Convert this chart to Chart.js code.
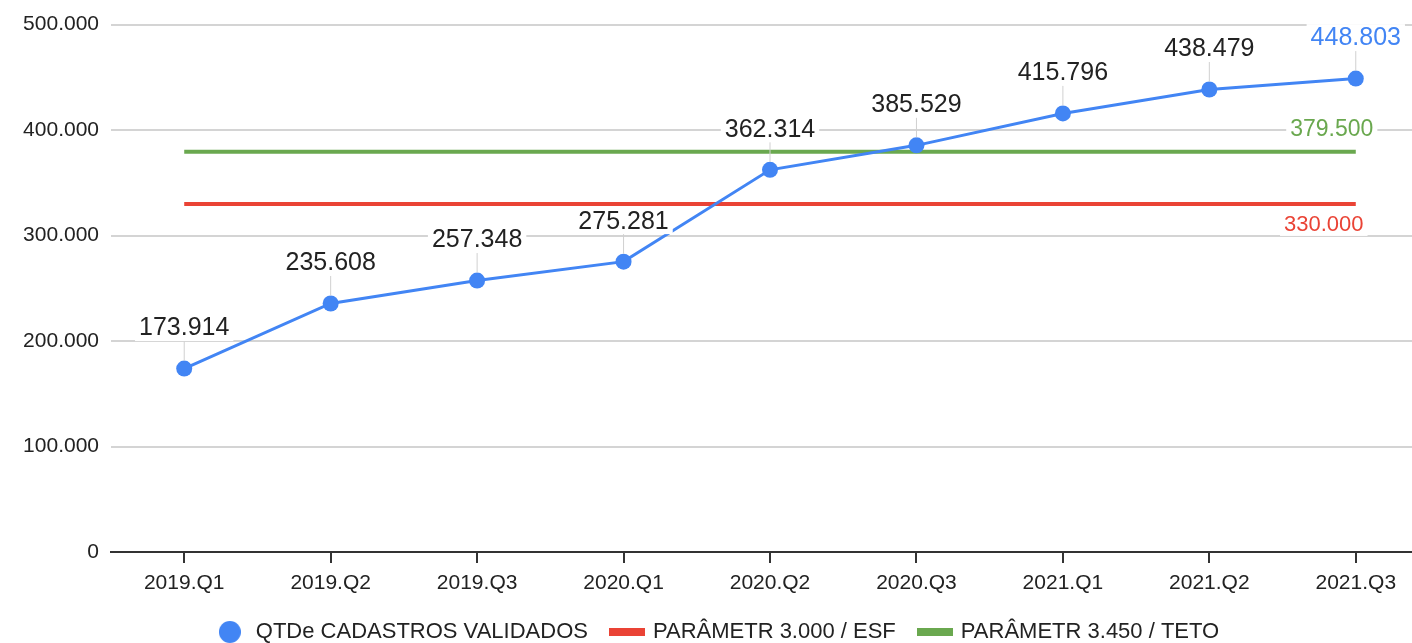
<!DOCTYPE html>
<html>
<head>
<meta charset="utf-8">
<script src="https://cdn.jsdelivr.net/npm/chart.js@4.4.1/dist/chart.umd.min.js"></script>
<style>
    body { margin: 0; background: #fff; overflow: hidden; }
    #wrap { width: 1437px; height: 653px; }
</style>
</head>
<body>
<div id="wrap"><canvas id="chart" width="1437" height="653"></canvas></div>
<script>
const quarters = ['2019.Q1', '2019.Q2', '2019.Q3', '2020.Q1', '2020.Q2', '2020.Q3', '2021.Q1', '2021.Q2', '2021.Q3'];
const cadastros = [173914, 235608, 257348, 275281, 362314, 385529, 415796, 438479, 448803];
const paramEsf = [330000, 330000, 330000, 330000, 330000, 330000, 330000, 330000, 330000];
const paramTeto = [379500, 379500, 379500, 379500, 379500, 379500, 379500, 379500, 379500];
const seriesNames = ['QTDe CADASTROS VALIDADOS', 'PARÂMETR 3.000 / ESF', 'PARÂMETR 3.450 / TETO'];

const BLUE = '#4285f4';
const RED = '#ea4335';
const GREEN = '#6aa84f';
const FONT = "'Liberation Sans', Arial, sans-serif";
const POINT_R = 8;

function fmt(v) {
    return String(Math.round(v)).replace(/\B(?=(\d{3})+(?!\d))/g, '.');
}

function legendIcon(kind, color) {
    const c = document.createElement('canvas');
    const g = c.getContext('2d');
    if (kind === 'circle') {
        c.width = 22; c.height = 22;
        g.fillStyle = color;
        g.beginPath();
        g.arc(11, 11, 11, 0, Math.PI * 2);
        g.fill();
    } else {
        c.width = 36; c.height = 8;
        g.fillStyle = color;
        g.fillRect(0, 0, 36, 8);
    }
    return c;
}

const icons = [legendIcon('circle', BLUE), legendIcon('rect', RED), legendIcon('rect', GREEN)];

// value labels with leader lines, drawn from the dataset meta
const valueLabels = {
    id: 'valueLabels',
    afterDatasetsDraw(chart) {
        const ctx = chart.ctx;
        ctx.save();
        ctx.textAlign = 'center';
        ctx.textBaseline = 'middle';

        function boxText(text, x, y, size, color) {
            ctx.font = size + 'px ' + FONT;
            const w = ctx.measureText(text).width;
            ctx.fillStyle = '#fff';
            ctx.fillRect(x - w / 2 - 4, y - size / 2 - 1, w + 8, size + 2);
            ctx.fillStyle = color;
            ctx.fillText(text, x, y + 1);
        }

        const meta = chart.getDatasetMeta(0);
        meta.data.forEach((pt, i) => {
            const ly = pt.y - 41;
            ctx.strokeStyle = '#d0d0d0';
            ctx.lineWidth = 1;
            ctx.beginPath();
            ctx.moveTo(pt.x, pt.y - POINT_R);
            ctx.lineTo(pt.x, ly + 12);
            ctx.stroke();
            const last = i === meta.data.length - 1;
            boxText(fmt(cadastros[i]), pt.x, ly, 25, last ? BLUE : '#222');
        });

        const esfLast = chart.getDatasetMeta(1).data[paramEsf.length - 1];
        boxText(fmt(paramEsf[paramEsf.length - 1]), esfLast.x - 32, esfLast.y + 20, 22, RED);
        const tetoLast = chart.getDatasetMeta(2).data[paramTeto.length - 1];
        boxText(fmt(paramTeto[paramTeto.length - 1]), tetoLast.x - 24, tetoLast.y - 23, 23, GREEN);
        ctx.restore();
    }
};

new Chart(document.getElementById('chart').getContext('2d'), {
    type: 'line',
    data: {
        labels: quarters,
        datasets: [{
            label: seriesNames[0],
            data: cadastros,
            borderColor: BLUE,
            backgroundColor: BLUE,
            borderWidth: 3,
            pointRadius: POINT_R,
            pointBorderWidth: 0,
            pointBackgroundColor: BLUE,
            tension: 0
        }, {
            label: seriesNames[1],
            data: paramEsf,
            borderColor: RED,
            backgroundColor: RED,
            borderWidth: 4,
            pointRadius: 0
        }, {
            label: seriesNames[2],
            data: paramTeto,
            borderColor: GREEN,
            backgroundColor: GREEN,
            borderWidth: 4,
            pointRadius: 0
        }]
    },
    options: {
        responsive: false,
        animation: false,
        layout: { padding: { left: 0, right: 3, top: 23, bottom: 0 } },
        scales: {
            x: {
                offset: true,
                afterFit: s => { s.height = 45; },
                grid: {
                    offset: false,
                    drawOnChartArea: false,
                    drawTicks: true,
                    tickLength: 11,
                    color: '#333',
                    lineWidth: 2
                },
                border: { display: true, color: '#333', width: 2 },
                ticks: {
                    color: '#222',
                    font: { family: FONT, size: 21 },
                    padding: 8,
                    maxRotation: 0,
                    autoSkip: false
                }
            },
            y: {
                min: 0,
                max: 500000,
                afterFit: s => { s.width = 111; },
                grid: { color: '#d4d4d4', lineWidth: 2, drawTicks: false },
                border: { display: false },
                ticks: {
                    stepSize: 100000,
                    color: '#222',
                    padding: 12,
                    font: { family: FONT, size: 21 },
                    callback: v => fmt(v)
                }
            }
        },
        plugins: {
            tooltip: { enabled: false },
            legend: {
                position: 'bottom',
                labels: {
                    usePointStyle: true,
                    pointStyleWidth: 30,
                    padding: 24,
                    color: '#222',
                    font: { family: FONT, size: 22 },
                    generateLabels: chart => chart.data.datasets.map((ds, i) => ({
                        text: ds.label,
                        fillStyle: ds.borderColor,
                        strokeStyle: ds.borderColor,
                        lineWidth: 0,
                        hidden: false,
                        datasetIndex: i,
                        pointStyle: icons[i],
                        fontColor: '#222'
                    }))
                }
            }
        }
    },
    plugins: [valueLabels]
});
</script>
</body>
</html>
